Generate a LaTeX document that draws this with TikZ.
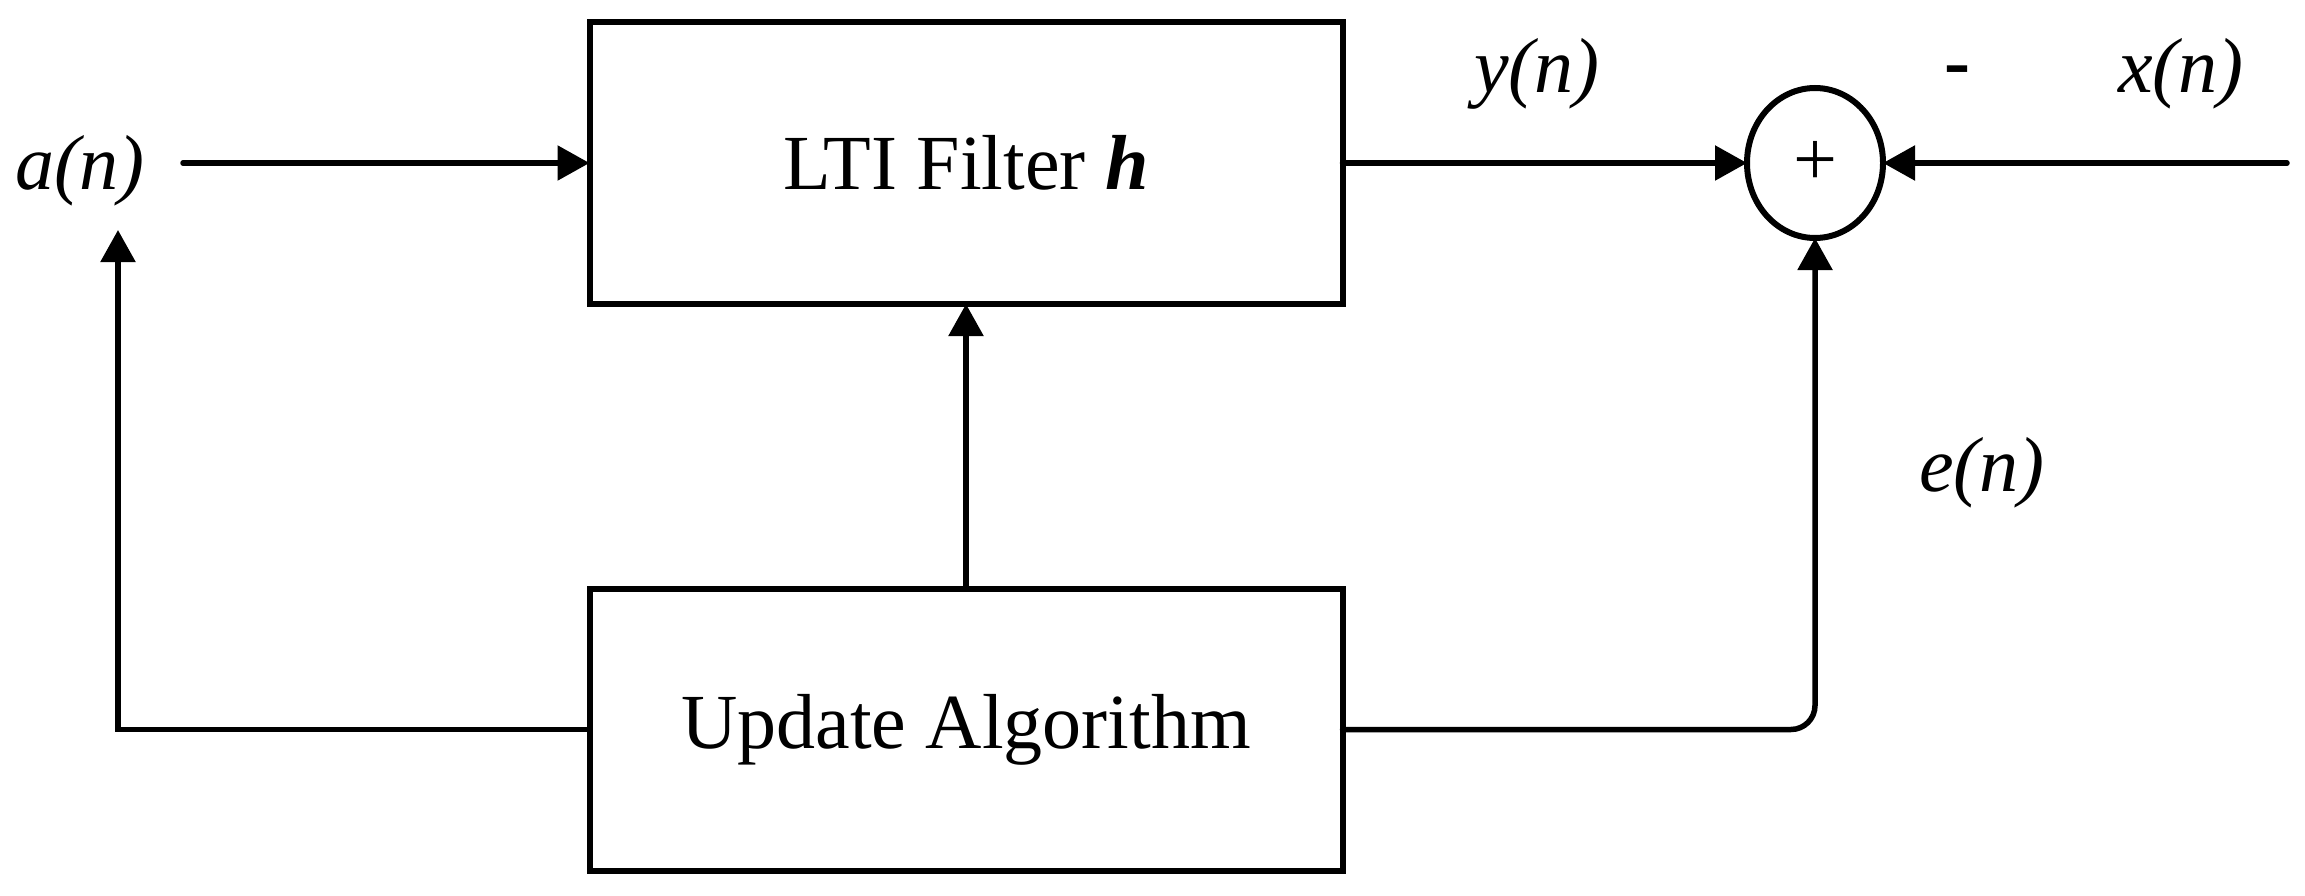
\documentclass[tikz,border=0pt]{standalone}
\usepackage{fontspec}
\setmainfont{Liberation Serif}
\usetikzlibrary{arrows.meta,shapes.geometric}
\begin{document}
\begin{tikzpicture}[x=1pt,y=-1pt, line width=6pt, >={Triangle[length=32pt,width=34pt]},
  blk/.style={draw, rectangle, minimum width=753pt, minimum height=282pt, inner sep=0pt, outer sep=0pt, font=\fontsize{78}{94}\selectfont},
  lbl/.style={inner sep=0pt, anchor=base, font=\fontsize{78}{94}\selectfont\itshape},
  sumnode/.style={draw, ellipse, minimum width=136pt, minimum height=150pt, inner sep=0pt, outer sep=0pt, font=\fontsize{78}{94}\selectfont},
  conn/.style={->, line width=5.5pt, line cap=round}]
\useasboundingbox (0,0) rectangle (2305,896);
\node[blk] (lti) at (966,163) {LTI Filter \textbf{\textit{h}}};
\node[blk] (upd) at (966,729.5) {Update Algorithm};
\node[sumnode] (sum) at (1815,163) {+};
\coordinate (ain) at (183,163);
\coordinate (xin) at (2287,163);
\coordinate (atip) at (118,230);
\node[lbl] (an) at (80,190) {a(n)};
\node[lbl] (yn) at (1537,93) {y(n)};
\node[lbl] (xn) at (2181,93) {x(n)};
\node[lbl] (en) at (1982,491) {e(n)};
\node[lbl, font=\fontsize{78}{94}\selectfont\bfseries] (minus) at (1957,88) {-};
\draw[conn] (ain) -- (lti.west);
\draw[conn] (lti.east) -- (sum.west);
\draw[conn] (xin) -- (sum.east);
\draw[conn] (upd.north) -- (lti.south);
\draw[conn] (upd.west) -| (atip);
\draw[conn, rounded corners=24pt] (upd.east) -| (sum.south);
\end{tikzpicture}
\end{document}
